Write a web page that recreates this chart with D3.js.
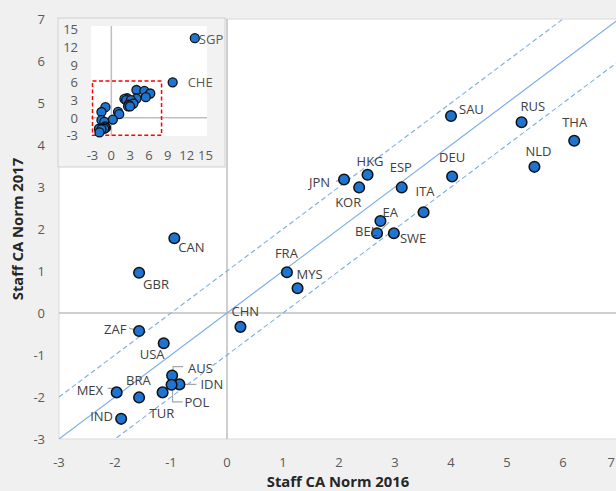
<!DOCTYPE html>
<html><head><meta charset="utf-8">
<script src="https://cdn.jsdelivr.net/npm/d3@7"></script>
<style>
html,body{margin:0;padding:0;background:#f0f0f0;}
svg{display:block;font-family:"Open Sans","Noto Sans",sans-serif;}
</style></head>
<body><svg id="chart" width="616" height="491"></svg>
<script>
// ---- data ----
const countries = ["SAU","RUS","THA","NLD","DEU","HKG","JPN","KOR","ESP","ITA","EA","BEL","SWE","CAN","GBR","FRA","MYS","CHN","ZAF","USA","AUS","IDN","POL","TUR","MEX","BRA","IND"];
const norm2016  = [4.00,5.26,6.20,5.49,4.02,2.51,2.09,2.36,3.12,3.51,2.74,2.68,2.98,-0.94,-1.57,1.07,1.26,0.24,-1.57,-1.13,-0.98,-0.85,-0.99,-1.15,-1.97,-1.57,-1.89];
const norm2017  = [4.69,4.54,4.10,3.48,3.25,3.29,3.18,2.99,2.99,2.40,2.19,1.90,1.90,1.78,0.96,0.97,0.59,-0.33,-0.43,-0.72,-1.49,-1.70,-1.71,-1.89,-1.89,-2.01,-2.52];
const extraCountries = ["CHE","SGP"];
const extra2016 = [9.77,13.3];
const extra2017 = [6.0,13.5];
const xTicks = [-3,-2,-1,0,1,2,3,4,5,6,7];
const yTicks = [-3,-2,-1,0,1,2,3,4,5,6,7];
const insetTicks = [-3,0,3,6,9,12,15];
const bandOffsets = [-1,0,1];     // y = x + offset
const zoomBox = [-3,8,-3,6.2];    // x0,x1,y0,y1 in inset

// ---- layout (label offsets, px) ----
const labelPos = {
  SAU:[8,-7],RUS:[-1,-16],THA:[-12,-19],NLD:[-9,-16],DEU:[-13,-20],HKG:[-11,-14],
  JPN:[-35,3],KOR:[-24,15],ESP:[-12,-20],ITA:[-8,-21],EA:[2,-9],BEL:[-22,-2],
  SWE:[6,5],CAN:[4,9],GBR:[4,11],FRA:[-12,-19],MYS:[-1,-14],CHN:[-9,-16],
  ZAF:[-35,-2],USA:[-24,11],AUS:[16,-8],IDN:[21,0],POL:[13,17],TUR:[-13,21],
  MEX:[-40,-2],BRA:[-13,-17],IND:[-31,-3]
};
const leaders = {
  JPN:[[-8,2],[-2,0]], BEL:[[12,-11],[1,0]], ZAF:[[-10,-3],[-3,-1]],
  AUS:[[1,-4],[1,-9],[11,-9]], IDN:[[4,0],[17,0]], POL:[[1,5],[1,17],[11,17]],
  MEX:[[-9,-4],[-1,-4],[-1,0]]
};

const svg = d3.select("#chart");
const W = 616;
const x = d3.scaleLinear().domain([-3,7]).range([59,619]);
const y = d3.scaleLinear().domain([-3,7]).range([439,19]);

// plot area
svg.append("rect").attr("x",59).attr("y",19).attr("width",560).attr("height",420)
  .attr("fill","#fff").attr("stroke","#d9d9d9").attr("stroke-width",1);

svg.append("clipPath").attr("id","pc").append("rect")
  .attr("x",59).attr("y",19).attr("width",560).attr("height",420);

// zero lines
svg.append("line").attr("x1",x(0)).attr("x2",x(0)).attr("y1",y(7)).attr("y2",y(-3))
  .attr("stroke","#bfbfbf").attr("stroke-width",1.5);
svg.append("line").attr("x1",x(-3)).attr("x2",x(7)).attr("y1",y(0)).attr("y2",y(0))
  .attr("stroke","#bfbfbf").attr("stroke-width",1.5);

// diagonal lines
const gl = svg.append("g").attr("clip-path","url(#pc)");
bandOffsets.forEach(o=>{
  gl.append("line").attr("x1",x(-3)).attr("y1",y(-3+o)).attr("x2",x(7)).attr("y2",y(7+o))
    .attr("stroke","#7eaee6").attr("stroke-width",1.1)
    .attr("stroke-dasharray", o===0 ? null : "5,3");
});

// axes tick labels
const tickColor = "#595959";
svg.append("g").selectAll("text").data(xTicks).join("text")
  .attr("x",d=>Math.min(x(d), W-1)).attr("y",462)
  .attr("text-anchor",d=>x(d) > W-5 ? "end" : "middle").attr("dominant-baseline","central")
  .attr("font-size",13).attr("fill",tickColor).text(d=>d);
svg.append("g").selectAll("text").data(yTicks).join("text")
  .attr("x",45).attr("y",d=>y(d)).attr("text-anchor","end").attr("dominant-baseline","central")
  .attr("font-size",13).attr("fill",tickColor).text(d=>d);

// axis titles
svg.append("text").attr("x",338).attr("y",480.5).attr("text-anchor","middle").attr("dominant-baseline","central")
  .attr("font-size",14.8).attr("font-weight","bold").attr("fill","#262626").text("Staff CA Norm 2016");
svg.append("text").attr("transform","translate(17,229) rotate(-90)").attr("text-anchor","middle")
  .attr("dominant-baseline","central").attr("font-size",14.8).attr("font-weight","bold").attr("fill","#262626")
  .text("Staff CA Norm 2017");

const pts = countries.map((c,i)=>({c, px:x(norm2016[i]), py:y(norm2017[i])}));

// leaders
const lg = svg.append("g");
pts.forEach(p=>{
  if(leaders[p.c]){
    lg.append("polyline").attr("points",leaders[p.c].map(q=>[p.px+q[0],p.py+q[1]].join(",")).join(" "))
      .attr("fill","none").attr("stroke","#a6a6a6").attr("stroke-width",1.2);
  }
});

// points
svg.append("g").selectAll("circle").data(pts).join("circle")
  .attr("cx",d=>d.px).attr("cy",d=>d.py).attr("r",5.3)
  .attr("fill","#1e74d0").attr("stroke","#111").attr("stroke-width",1.5);

// labels
svg.append("g").selectAll("text").data(pts).join("text")
  .attr("x",d=>d.px+labelPos[d.c][0]).attr("y",d=>d.py+labelPos[d.c][1])
  .attr("dominant-baseline","central").attr("font-size",13).attr("fill","#404040").text(d=>d.c);

// ---- inset ----
svg.append("rect").attr("x",58).attr("y",18).attr("width",167).attr("height",149)
  .attr("fill","#f2f2f2").attr("stroke","#d0d0d0").attr("stroke-width",1);
const ix = d3.scaleLinear().domain([-3,15]).range([92.5,205.5]);
const iy = d3.scaleLinear().domain([-3,15]).range([135.3,29.3]);
svg.append("rect").attr("x",91).attr("y",26).attr("width",116).attr("height",110).attr("fill","#fff");
svg.append("line").attr("x1",ix(0)).attr("x2",ix(0)).attr("y1",26).attr("y2",136)
  .attr("stroke","#bfbfbf").attr("stroke-width",1.5);
svg.append("line").attr("x1",91).attr("x2",207).attr("y1",iy(0)).attr("y2",iy(0))
  .attr("stroke","#bfbfbf").attr("stroke-width",1.5);
svg.append("g").selectAll("text").data(insetTicks).join("text")
  .attr("x",d=>ix(d)).attr("y",155).attr("text-anchor","middle").attr("dominant-baseline","central")
  .attr("font-size",13).attr("fill",tickColor).text(d=>d);
svg.append("g").selectAll("text").data(insetTicks).join("text")
  .attr("x",78).attr("y",d=>iy(d)).attr("text-anchor","end").attr("dominant-baseline","central")
  .attr("font-size",13).attr("fill",tickColor).text(d=>d);
svg.append("rect").attr("x",ix(zoomBox[0])).attr("y",iy(zoomBox[3]))
  .attr("width",ix(zoomBox[1])-ix(zoomBox[0])).attr("height",iy(zoomBox[2])-iy(zoomBox[3]))
  .attr("fill","none").attr("stroke","#ff0000").attr("stroke-width",1.5).attr("stroke-dasharray","4,2.5");
const ipts = countries.map((c,i)=>({c,px:ix(norm2016[i]),py:iy(norm2017[i])}))
  .concat(extraCountries.map((c,i)=>({c,px:ix(extra2016[i]),py:iy(extra2017[i])})));
svg.append("g").selectAll("circle").data(ipts).join("circle")
  .attr("cx",d=>d.px).attr("cy",d=>d.py).attr("r",4.5)
  .attr("fill","#1e74d0").attr("stroke","#111").attr("stroke-width",1.3);
const extraLabelPos = {CHE:[15,0],SGP:[4,1]};
svg.append("g").selectAll("text").data(ipts.filter(d=>extraCountries.includes(d.c))).join("text")
  .attr("x",d=>d.px+extraLabelPos[d.c][0]).attr("y",d=>d.py+extraLabelPos[d.c][1])
  .attr("dominant-baseline","central").attr("font-size",13).attr("fill","#595959").text(d=>d.c);
</script></body></html>
